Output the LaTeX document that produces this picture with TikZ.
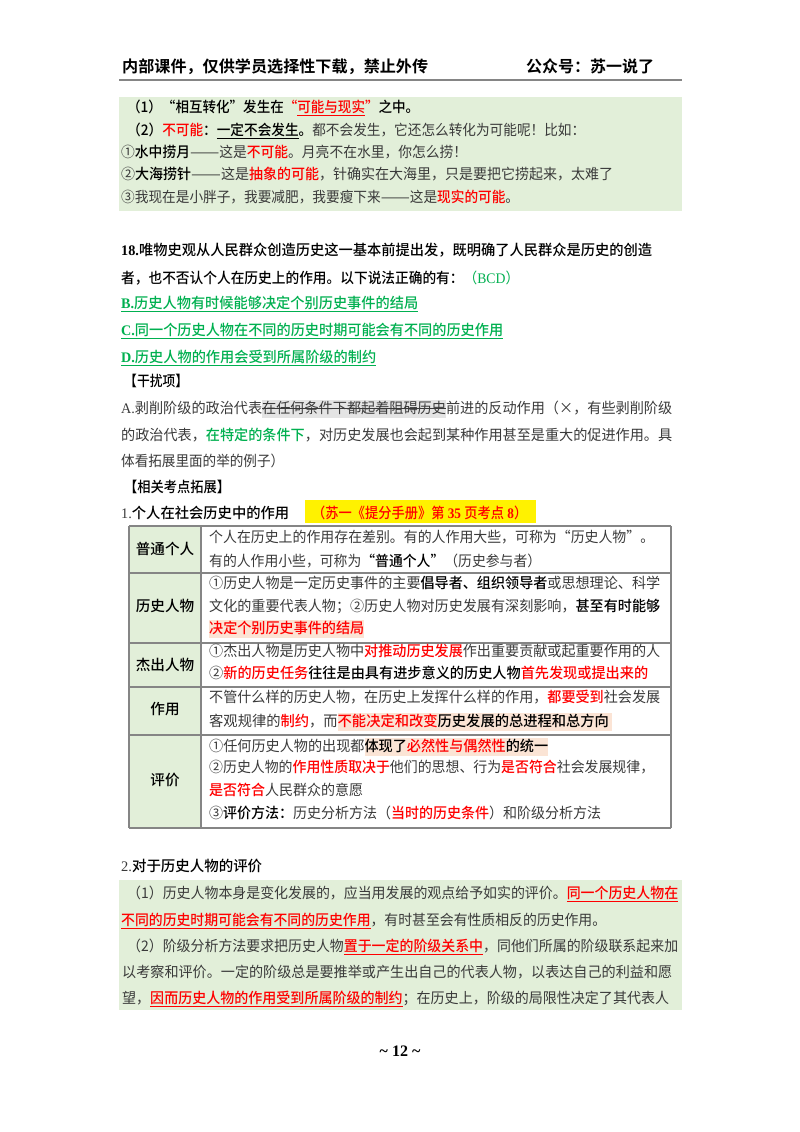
\documentclass[tikz,border=0pt]{standalone}
\usepackage{fontspec}
\usepackage{graphicx}
\usepackage{xcolor}
\setmainfont{Noto Sans CJK SC}[BoldFont={Noto Sans CJK SC Medium}]
\newfontfamily\latfont{Liberation Serif}
\newfontfamily\headfont{Noto Sans CJK SC Bold}
\definecolor{bodygray}{HTML}{3A3A3A}
\definecolor{notegreen}{HTML}{E2EFD9}
\definecolor{ansgreen}{HTML}{00B050}
\definecolor{softpink}{HTML}{FBE4D5}
\definecolor{softgray}{HTML}{E4E4E4}
\definecolor{rulegray}{HTML}{858585}
\newcommand{\lat}[1]{{\latfont #1}}
\newcommand{\rd}[1]{{\color{red}\textbf{#1}}}
\newcommand{\gn}[1]{{\color{ansgreen}#1}}
\newcommand{\bd}[1]{{\color{black}\textbf{#1}}}
\newcommand{\undl}[1]{\sbox0{#1}\rlap{\raisebox{-3.5pt}{\rule{\wd0}{1pt}}}\usebox0}
\newcommand{\strk}[1]{\sbox0{#1}\rlap{\raisebox{4pt}{\rule{\wd0}{1pt}}}\usebox0}
\newcommand{\hl}[2]{\setlength{\fboxsep}{0pt}\colorbox{#1}{\rule[-4.5pt]{0pt}{18pt}#2}}
\newcommand{\ldash}{\scalebox{1.27}[1]{——}}
\newcommand{\fitline}[2]{\resizebox{#1pt}{\height}{#2}}
\tikzset{%
    every textline/.style={
        anchor=base west,
        inner sep=0pt,
        text=bodygray,
        font=\fontsize{14.6}{18}\selectfont
    },
    head text/.style={
        anchor=base west,
        inner sep=0pt,
        text=black,
        font=\fontsize{16}{18}\headfont
    },
    cell label/.style={
        inner sep=0pt,
        text=black,
        font=\fontsize{14.6}{18}\selectfont\bfseries
    },
    note box/.style={
        fill=notegreen,
        draw=none
    },
    table rule/.style={
        draw=rulegray,
        line width=1.1pt
    },
}
\begin{document}
\begin{tikzpicture}[x=1pt, y=-1pt]

    \useasboundingbox [fill=white] (0,0) rectangle (800,1132);

    % header
    \node [head text] (head-left) at (122,73) {\fitline{306}{内部课件，仅供学员选择性下载，禁止外传}};
    \node [head text] (head-right) at (526,73) {\fitline{128}{公众号：苏一说了}};
    \coordinate (rule-left) at (119,80);
    \coordinate (rule-right) at (682,80);
    \draw [draw=rulegray, line width=2pt] (rule-left) -- (rule-right);

    % green boxes
    \fill [note box] (119,97) rectangle (682,211);
    \fill [note box] (119,880) rectangle (682,1010);
    % yellow tag
    \fill [yellow] (305,500) rectangle (536,523);

    \foreach \x/\y/\w/\t [count=\i] in {
        127/112/292/{\bd{（1）“相互转化”发生在}\rd{“\undl{可能与现实}”}\bd{之中。}},
        127/135/458/{\bd{（2）}\rd{不可能}\bd{：\undl{一定不会发生}。}都不会发生，它还怎么转化为可能呢！比如：},
        121/157/346/{①\bd{水中捞月}\ldash 这是\rd{不可能}。月亮不在水里，你怎么捞！},
        121/179/492/{②\bd{大海捞针}\ldash 这是\rd{抽象的可能}，针确实在大海里，只是要把它捞起来，太难了},
        121/202/401/{③我现在是小胖子，我要减肥，我要瘦下来\ldash 这是\rd{现实的可能}。}
    }
        \node [every textline] (note-\i) at (\x,\y) {\fitline{\w}{\t}};

    \foreach \x/\y/\w/\t [count=\i] in {
        121/255/531/{\bd{\lat{18.}唯物史观从人民群众创造历史这一基本前提出发，既明确了人民群众是历史的创造}},
        121/283/398/{\bd{者，也不否认个人在历史上的作用。以下说法正确的有：}\gn{（\lat{BCD}）}},
        121/308/297/{\gn{\textbf{\undl{\lat{B.}历史人物有时候能够决定个别历史事件的结局}}}},
        121/335/382/{\gn{\textbf{\undl{\lat{C.}同一个历史人物在不同的历史时期可能会有不同的历史作用}}}},
        121/362/255/{\gn{\textbf{\undl{\lat{D.}历史人物的作用会受到所属阶级的制约}}}},
        124/386/64/{\bd{【干扰项】}},
        121/413/551/{\lat{A.}剥削阶级的政治代表\hl{softgray}{\strk{在任何条件下都起着阻碍历史}}前进的反动作用（×，有些剥削阶级},
        121/440/551/{的政治代表，\gn{\textbf{在特定的条件下}}，对历史发展也会起到某种作用甚至是重大的促进作用。具},
        121/466/163/{体看拓展里面的举的例子）},
        124/492/106/{\bd{【相关考点拓展】}},
        121/518/168/{\lat{1.}\bd{个人在社会历史中的作用}},
        312/518/218/{\rd{（苏一《提分手册》第\lat{ 35 }页考点\lat{ 8}）}}
    }
        \node [every textline] (ques-\i) at (\x,\y) {\fitline{\w}{\t}};

    % table
    \fill [note box] (129,526) rectangle (201,828);
    \foreach \y [count=\i] in {526,573,643,687,735,828}
        \coordinate (row-\i) at (129,\y);
    \foreach \y [count=\i] in {526,573,643,687,735,828}
        \coordinate (end-\i) at (671,\y);
    \foreach \i in {1,...,6}
        \draw [table rule] (row-\i) -- (end-\i);
    \draw [table rule] (row-1) -- (row-6);
    \draw [table rule] (end-1) -- (end-6);
    \coordinate (col-top) at (201,526);
    \coordinate (col-bottom) at (201,828);
    \draw [table rule] (col-top) -- (col-bottom);

    \foreach \y/\l [count=\i] in {549/普通个人,606/历史人物,665/杰出人物,709/作用,780/评价}
        \node [cell label] (label-\i) at (165,\y) {\l};

    \foreach \y/\w/\t [count=\i] in {
        542/445/{个人在历史上的作用存在差别。有的人作用大些，可称为“历史人物”。},
        566/332/{有的人作用小些，可称为\bd{“普通个人”}（历史参与者）},
        588/451/{①历史人物是一定历史事件的主要\bd{倡导者、组织领导者}或思想理论、科学},
        611/451/{文化的重要代表人物；②历史人物对历史发展有深刻影响，\bd{甚至有时能够}},
        633/155/{\hl{softpink}{\rd{决定个别历史事件的结局}}},
        656/451/{①杰出人物是历史人物中\rd{对推动历史发展}作出重要贡献或起重要作用的人},
        678/439/{②\rd{新的历史任务}\bd{往往是由具有进步意义的历史人物}\rd{首先发现或提出来的}},
        702/451/{不管什么样的历史人物，在历史上发挥什么样的作用，\rd{都要受到}社会发展},
        726/403/{客观规律的\rd{制约}，而\hl{softpink}{\rd{不能决定和改变}\bd{历史发展的总进程和总方向}\ }},
        751/339/{①任何历史人物的出现都\hl{softpink}{\bd{体现了}\rd{必然性与偶然性}\bd{的统一}}},
        772/445/{②历史人物的\rd{作用性质取决于}他们的思想、行为\rd{是否符合}社会发展规律，},
        795/154/{\rd{是否符合}人民群众的意愿},
        818/395/{③\bd{评价方法：}历史分析方法（\rd{当时的历史条件}）和阶级分析方法}
    }
        \node [every textline] (cell-\i) at (209,\y) {\fitline{\w}{\t}};

    % second section
    \foreach \x/\y/\w/\t [count=\i] in {
        121/871/141/{\lat{2.}\bd{对于历史人物的评价}},
        127/898/551/{（1）历史人物本身是变化发展的，应当用发展的观点给予如实的评价。\rd{\undl{同一个历史人物在}}},
        121/925/485/{\rd{\undl{不同的历史时期可能会有不同的历史作用}}，有时甚至会有性质相反的历史作用。},
        127/951/551/{（2）阶级分析方法要求把历史人物\rd{\undl{置于一定的阶级关系中}}，同他们所属的阶级联系起来加},
        122/977/550/{以考察和评价。一定的阶级总是要推举或产生出自己的代表人物，以表达自己的利益和愿},
        122/1003/550/{望，\rd{\undl{因而历史人物的作用受到所属阶级的制约}}；在历史上，阶级的局限性决定了其代表人}
    }
        \node [every textline] (eval-\i) at (\x,\y) {\fitline{\w}{\t}};

    \node [inner sep=0pt, text=black] (page-num) at (400,1051) {\fontsize{16}{18}\selectfont\latfont\bfseries\textasciitilde\ 12\ \textasciitilde};

\end{tikzpicture}
\end{document}
